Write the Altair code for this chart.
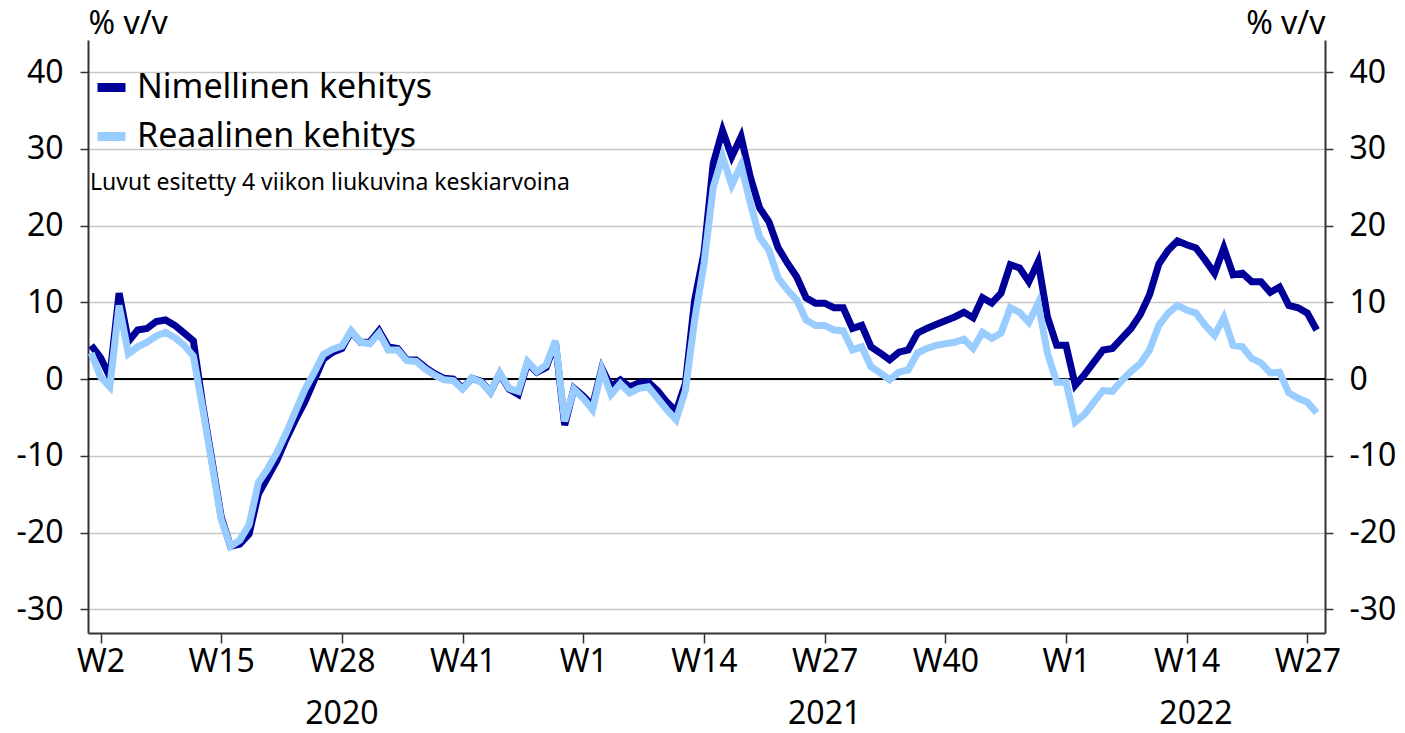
import altair as alt
import pandas as pd

FONT = "Noto Sans"

# ---- data (weekly, 4-week moving averages, % y/y) ----
weeks_2020 = [f"W{w}" for w in range(1, 54)]
weeks_2021 = [f"W{w}" for w in range(1, 53)]
weeks_2022 = [f"W{w}" for w in range(1, 29)]
week_labels = weeks_2020 + weeks_2021 + weeks_2022
week_years = [2020] * len(weeks_2020) + [2021] * len(weeks_2021) + [2022] * len(weeks_2022)

nimellinen = [
    4.4, 2.8, 0.3, 11.2, 4.9, 6.4, 6.6, 7.5, 7.7, 7.0,
    6.0, 5.0, -3.3, -10.6, -18.0, -21.8, -21.5, -20.2, -15.0, -12.8,
    -10.6, -7.8, -5.3, -3.0, -0.2, 2.6, 3.5, 4.0, 6.2, 4.8,
    4.8, 6.3, 4.2, 4.0, 2.5, 2.5, 1.5, 0.7, 0.1, 0.0,
    -1.2, 0.1, -0.3, -1.7, 0.7, -1.3, -2.0, 2.1, 0.9, 1.5,
    4.8, -6.0, -1.2, -2.2, -3.5, 1.4, -1.0, -0.1, -1.0, -0.5,
    -0.4, -1.5, -3.0, -4.2, -0.6, 10.3, 16.4, 28.1, 32.4, 29.0,
    31.6, 26.3, 22.3, 20.5, 17.1, 15.1, 13.3, 10.6, 9.9, 9.9,
    9.3, 9.3, 6.6, 7.0, 4.2, 3.4, 2.5, 3.5, 3.8, 6.0,
    6.6, 7.1, 7.6, 8.1, 8.7, 8.0, 10.6, 9.9, 11.2, 14.9,
    14.5, 12.7, 15.3, 8.1, 4.4, 4.4, -0.8, 0.6, 2.2, 3.8,
    4.0, 5.3, 6.6, 8.4, 11.0, 15.0, 16.8, 18.0, 17.5, 17.1,
    15.5, 13.8, 17.1, 13.6, 13.8, 12.7, 12.7, 11.3, 12.0, 9.6,
    9.3, 8.6, 6.4,
]

reaalinen = [
    3.4, 0.3, -1.0, 9.6, 3.3, 4.2, 4.8, 5.6, 6.1, 5.4,
    4.4, 3.0, -3.8, -11.0, -18.3, -21.8, -21.0, -19.0, -13.5, -11.7,
    -9.6, -7.0, -4.2, -1.4, 0.8, 3.2, 3.9, 4.3, 6.3, 4.8,
    4.6, 6.0, 3.8, 3.8, 2.4, 2.3, 1.3, 0.5, -0.1, -0.2,
    -1.3, 0.1, -0.4, -1.7, 0.8, -1.2, -1.6, 2.3, 1.0, 1.8,
    5.0, -5.5, -1.3, -2.5, -4.0, 1.2, -2.0, -0.6, -1.8, -1.2,
    -1.0, -2.5, -4.0, -5.3, -1.5, 7.7, 15.0, 25.0, 29.0, 25.3,
    27.9, 22.9, 18.5, 16.8, 13.2, 11.6, 10.3, 7.7, 7.0, 7.0,
    6.4, 6.3, 3.8, 4.2, 1.6, 0.8, -0.1, 0.9, 1.2, 3.4,
    4.0, 4.4, 4.6, 4.8, 5.2, 4.0, 6.1, 5.3, 6.0, 9.3,
    8.7, 7.4, 9.9, 3.4, -0.4, -0.4, -5.6, -4.6, -3.0, -1.5,
    -1.6, -0.2, 1.0, 2.0, 3.8, 7.0, 8.6, 9.6, 9.0, 8.6,
    7.0, 5.7, 8.0, 4.4, 4.2, 2.7, 2.1, 0.8, 0.9, -1.8,
    -2.5, -3.0, -4.4,
]

series_names = ["Nimellinen kehitys", "Reaalinen kehitys"]
series_colors = ["#000099", "#99CCFF"]

tick_idx = [1, 14, 27, 40, 53, 66, 79, 92, 105, 118, 131]
tick_labels = ["W2", "W15", "W28", "W41", "W1", "W14", "W27", "W40", "W1", "W14", "W27"]
year_idx = [27, 79, 119]
year_labels = ["2020", "2021", "2022"]
y_ticks = [-30, -20, -10, 0, 10, 20, 30, 40]
note = "Luvut esitetty 4 viikon liukuvina keskiarvoina"

# ---- tables ----
n = len(week_labels)
rows = []
for i in range(n):
    rows.append({"idx": i, "week": week_labels[i], "year": week_years[i],
                 "series": series_names[0], "value": nimellinen[i]})
for i in range(n):
    rows.append({"idx": i, "week": week_labels[i], "year": week_years[i],
                 "series": series_names[1], "value": reaalinen[i]})
df = pd.DataFrame(rows)

W, H = 1237, 593
x_scale = alt.Scale(domain=[-0.35, 132.9], nice=False, zero=False)
y_scale = alt.Scale(domain=[-33.1, 44.2], nice=False, zero=False)

label_expr = (
    "[" + ",".join(f"'{t}'" for t in tick_labels) + "][indexof(["
    + ",".join(str(v) for v in tick_idx) + "], datum.value)]"
)

x_axis = alt.Axis(values=tick_idx, labelExpr=label_expr, grid=False, title=None,
                  orient="bottom",
                  tickSize=10, tickWidth=1.5, tickColor="#333333",
                  domainColor="#333333", domainWidth=2,
                  labelFontSize=32, labelFont=FONT, labelColor="black",
                  labelPadding=3, labelFlush=False)

y_axis_left = alt.Axis(values=y_ticks, labelExpr="datum.value + ''",
                       title="% v/v", titleAngle=0, titleAlign="left",
                       titleBaseline="alphabetic", titleX=0, titleY=-7,
                       titleFontSize=32, titleFont=FONT, titleFontWeight="normal",
                       titleColor="black",
                       grid=True, gridColor="#C8C8C8", gridWidth=1.3,
                       tickSize=8, tickWidth=1.5, tickColor="#333333",
                       domainColor="#333333", domainWidth=2,
                       labelFontSize=32, labelFont=FONT, labelColor="black",
                       labelPadding=17)

y_axis_right = alt.Axis(values=y_ticks, labelExpr="datum.value + ''", orient="right",
                        title="% v/v", titleAngle=0, titleAlign="right",
                        titleBaseline="alphabetic", titleX=0, titleY=-7,
                        titleFontSize=32, titleFont=FONT, titleFontWeight="normal",
                        titleColor="black",
                        grid=False,
                        tickSize=8, tickWidth=1.5, tickColor="#333333",
                        domainColor="#333333", domainWidth=2,
                        labelFontSize=32, labelFont=FONT, labelColor="black",
                        labelPadding=16)

color = alt.Color(
    "series:N",
    scale=alt.Scale(domain=series_names, range=series_colors),
    legend=alt.Legend(orient="none", legendX=5, legendY=29, title=None,
                      symbolType="stroke", symbolSize=784, symbolStrokeWidth=9,
                      labelFontSize=34, labelFont=FONT, labelColor="black",
                      labelOffset=7, rowPadding=12, padding=0, labelLimit=1000),
)

base = alt.Chart(df)
line_dark = base.transform_filter(alt.datum.series == series_names[0]).mark_line(
    strokeWidth=7, strokeJoin="miter", strokeCap="butt"
).encode(
    x=alt.X("idx:Q", scale=x_scale, axis=x_axis),
    y=alt.Y("value:Q", scale=y_scale, axis=y_axis_left),
    color=color,
)
line_light = base.transform_filter(alt.datum.series == series_names[1]).mark_line(
    strokeWidth=7, strokeJoin="miter", strokeCap="butt"
).encode(
    x=alt.X("idx:Q", scale=x_scale, axis=x_axis),
    y=alt.Y("value:Q", scale=y_scale, axis=y_axis_left),
    color=color,
)
lines = alt.layer(line_dark, line_light)

zero = alt.Chart(pd.DataFrame({"value": [0]})).mark_rule(
    color="black", strokeWidth=2
).encode(y=alt.Y("value:Q", scale=y_scale, axis=y_axis_right))

note_layer = alt.Chart(pd.DataFrame({"t": [note]})).mark_text(
    align="left", baseline="alphabetic", fontSize=23, font=FONT, color="black"
).encode(text="t:N", x=alt.value(2), y=alt.value(150))

years_layer = alt.Chart(pd.DataFrame({"idx": year_idx, "year": year_labels})).mark_text(
    align="center", baseline="alphabetic", fontSize=32, font=FONT, color="black"
).encode(x=alt.X("idx:Q", scale=x_scale, axis=x_axis), y=alt.value(684), text="year:N")

# white mask over the default view border at the top edge of the plot
top_mask = alt.Chart(pd.DataFrame({"m": [0]})).mark_rule(
    color="white", strokeWidth=3
).encode(x=alt.value(2), x2=alt.value(W - 2), y=alt.value(0))

chart = alt.layer(zero, lines, note_layer, years_layer, top_mask).resolve_axis(
    y="independent"
).properties(
    width=W, height=H,
    padding={"left": 80, "top": 32, "right": 72, "bottom": 92},
    autosize=alt.AutoSizeParams(type="none"),
    view=alt.ViewBackground(strokeOpacity=0, strokeWidth=0),
).configure_view(stroke="white", strokeOpacity=0)

chart.save("out.html", embed_options={"renderer": "svg", "actions": False})
